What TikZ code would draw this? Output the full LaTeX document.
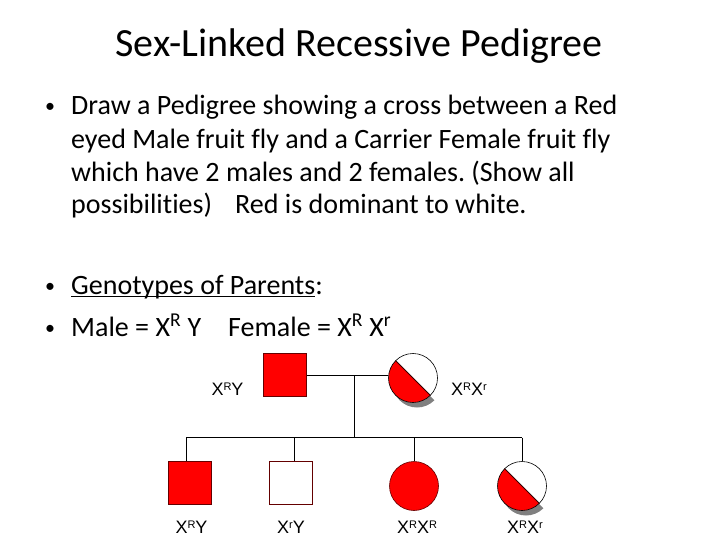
\documentclass[tikz,border=0pt]{standalone}
\usepackage{fontspec}
\setmainfont{Carlito}[Ligatures={NoCommon}]
\newfontfamily\lbfont{Liberation Sans}
\usetikzlibrary{calc}
\frenchspacing
\definecolor{darkred}{RGB}{100,0,0}
\definecolor{shadowgray}{RGB}{128,128,128}
\newcommand\gs[1]{\raisebox{4.6pt}{\fontsize{11}{11}\selectfont #1}}
\newcommand\ulin[1]{\setbox0\hbox{#1}\rlap{\rule[-3.2pt]{\wd0}{1.6pt}}\box0}
\tikzset{
  title/.style={font=\fontsize{40}{44}\selectfont, inner sep=0, anchor=base},
  body/.style={font=\fontsize{28}{32}\selectfont, inner sep=0, anchor=base west},
  bullet/.style={font=\fontsize{20}{24}\selectfont, inner sep=0, anchor=base},
  lbl/.style={font=\lbfont\fontsize{18}{20}\selectfont, inner sep=0, anchor=base},
  male/.style={rectangle, draw=darkred, line width=0.8pt, minimum size=43pt, inner sep=0},
  female/.style={circle, draw=black, line width=0.6pt, minimum size=49pt, inner sep=0},
  affected/.style={fill=red},
  unaffected/.style={fill=white},
  link/.style={draw=black, line width=0.8pt},
}
\newcommand\carrierfill[2]{%
  \fill[shadowgray] ($(#1)+(4pt,-5pt)$) ++(135:#2) arc[start angle=135,end angle=315,radius=#2] -- cycle;
  \fill[white] (#1) circle[radius=#2];
  \fill[red] (#1) ++(135:#2) arc[start angle=135,end angle=315,radius=#2] -- cycle;
  \draw[line width=0.8pt, black!80!red] (#1) ++(135:#2) -- ($(#1)+(315:#2)$);
}
\begin{document}
\begin{tikzpicture}[x=1pt,y=1pt]
\useasboundingbox (0,0) rectangle (720,-540);
\fill[white] (0,0) rectangle (720,-540);

% title
\node[title] (t) at (359,-57) {Sex-Linked Recessive Pedigree};

% first bullet
\node[bullet] (b1) at (50,-113) {•};
\node[body] (l1) at (71,-115) {Draw a Pedigree showing a cross between a Red};
\node[body] (l2) at (71,-148.5) {eyed Male fruit fly and a Carrier Female fruit fly};
\node[body] (l3) at (71,-181.5) {which have 2 males and 2 females. (Show all};
\node[body] (l4) at (71,-214) {possibilities)\hspace{0.6em} Red is dominant to white.};

% genotypes
\node[bullet] (b2) at (50,-292) {•};
\node[body] (g1) at (71,-294) {\ulin{Genotypes of Parents}:};
\node[bullet] (b3) at (50,-334) {•};
\node[body] (g2) at (71,-336) {Male = X\textsuperscript{R} Y};
\node[body] (g3) at (228,-336) {Female = X\textsuperscript{R} X\textsuperscript{r}};

% parents
\node[male, affected] (dad) at (285,-375) {};
\coordinate (momc) at (413,-378);
\carrierfill{momc}{24.5pt}
\node[female] (mom) at (momc) {};
\node[lbl] (dadl) at (227.5,-395) {X\gs{R}Y};
\node[lbl] (moml) at (469,-395) {X\gs{R}X\gs{r}};

\coordinate (mid) at (354,-375);
\draw[link] (dad.east) -- (dad.east -| mom.west);
\coordinate (bar) at (354,-437.5);
\draw[link] (mid) -- (bar);

% children
\node[male, affected] (c1) at (189.5,-483) {};
\node[male, unaffected] (c2) at (290.5,-483) {};
\node[female, affected, draw=darkred] (c3) at (414,-486) {};
\coordinate (c4c) at (522,-486);
\carrierfill{c4c}{24.5pt}
\node[female] (c4) at (c4c) {};

\coordinate (d1) at (186,-437.5);
\coordinate (d2) at (294,-437.5);
\coordinate (d3) at (414,-437.5);
\coordinate (d4) at (522,-437.5);
\draw[link] (d1) -- (d4);
\draw[link] (d1) -- (d1 |- c1.north);
\draw[link] (d2) -- (d2 |- c2.north);
\draw[link] (d3) -- (c3.north);
\draw[link] (d4) -- (c4.north);

\node[lbl] (c1l) at (191.5,-533) {X\gs{R}Y};
\node[lbl] (c2l) at (291,-533) {X\gs{r}Y};
\node[lbl] (c3l) at (417,-533) {X\gs{R}X\gs{R}};
\node[lbl] (c4l) at (525,-533) {X\gs{R}X\gs{r}};
\end{tikzpicture}
\end{document}
